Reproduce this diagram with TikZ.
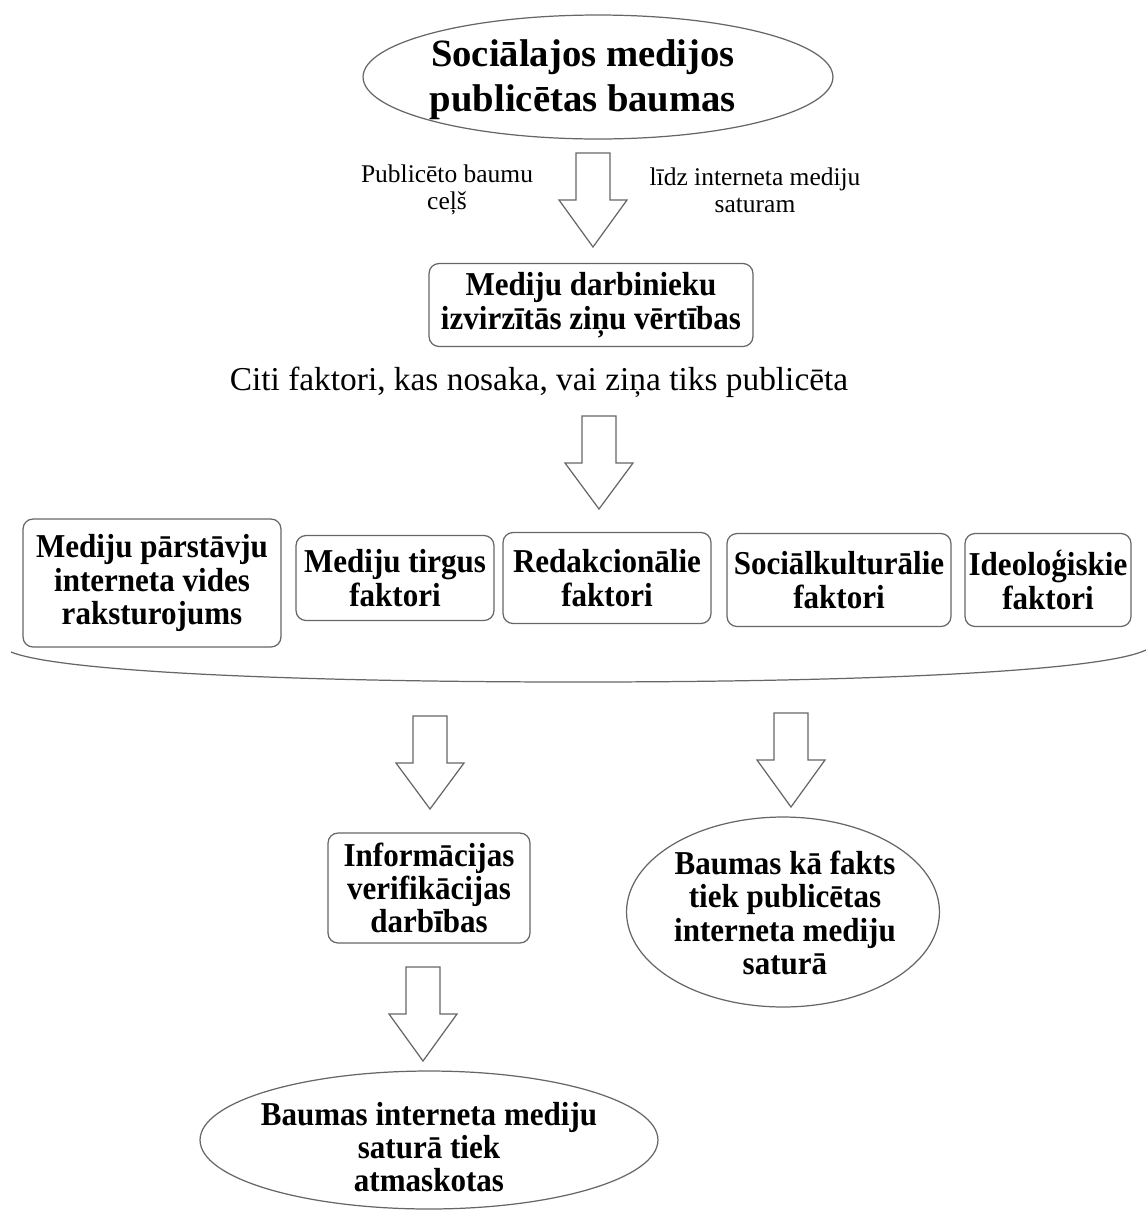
\documentclass[tikz,border=0pt]{standalone}
\usepackage{fontspec}
\setmainfont{Liberation Serif}
\newfontfamily\narrowserif{Liberation Serif}[FakeStretch=0.93]
\usetikzlibrary{shapes.geometric}

\newcommand{\blockdown}[4]{%
  \draw[blockarrow] ({#1-17},#2) -- ({#1+17},#2) -- ({#1+17},#3) -- ({#1+34},#3)
    -- (#1,#4) -- ({#1-34},#3) -- ({#1-17},#3) -- cycle;}

\begin{document}
\begin{tikzpicture}[x=0.02cm, y=-0.02cm,
        every node/.style={align=center, inner sep=0pt},
        boldtext/.style={font=\narrowserif\bfseries\fontsize{19}{19}\selectfont},
        factor/.style={boldtext, draw=black!60, line width=0.7pt, rounded corners=0.2cm},
        ovalline/.style={draw=black!60, line width=0.7pt},
        blockarrow/.style={draw=black!60, line width=0.7pt, fill=white, line join=miter},
        note/.style={font=\fontsize{14.5}{15.5}\selectfont}]
    \useasboundingbox (0,0) rectangle (1146,1211);

    % top
    \node[font=\bfseries\fontsize{22}{25.5}\selectfont] (social) at (583,80) {Sociālajos medijos\\publicētas baumas};
    \draw[ovalline] (598,77) ellipse [x radius=4.7cm, y radius=1.24cm];
    \node[note] (pathL) at (447,190) {Publicēto baumu\\ceļš};
    \node[note] (pathR) at (755,190) {līdz interneta mediju\\saturam};
    \blockdown{593}{153}{200}{247}

    \node[factor, minimum width=6.48cm, minimum height=1.66cm] (values) at (591,305)
        {Mediju darbinieku\\izvirzītās ziņu vērtības};
    \node[font=\fontsize{19}{20}\selectfont] (other) at (539,382)
        {Citi faktori, kas nosaka, vai ziņa tiks publicēta};
    \blockdown{599}{416}{463}{509}

    % factors
    \node[factor, minimum width=5.16cm, minimum height=2.56cm] (f1) at (152,583)
        {Mediju pārstāvju\\interneta vides\\raksturojums};
    \node[factor, minimum width=3.96cm, minimum height=1.7cm] (f2) at (395,578)
        {Mediju tirgus\\faktori};
    \node[factor, minimum width=4.16cm, minimum height=1.82cm] (f3) at (607,578)
        {Redakcionālie\\faktori};
    \node[factor, minimum width=4.48cm, minimum height=1.86cm] (f4) at (839,580)
        {Sociālkulturālie\\faktori};
    \node[factor, minimum width=3.32cm, minimum height=1.86cm] (f5) at (1048,580)
        {Ideoloģiskie\\faktori};
    \coordinate (braceL) at (11,652);
    \coordinate (braceM) at (578,682);
    \coordinate (braceR) at (1146,650);
    \draw[ovalline] (braceL) .. controls (60,672) and (300,682) .. (braceM)
        .. controls (856,682) and (1100,672) .. (braceR);

    \blockdown{430}{716}{763}{809}
    \blockdown{791}{713}{760}{807}

    % outcomes
    \node[factor, minimum width=4.04cm, minimum height=2.2cm] (verify) at (429,888)
        {Informācijas\\verifikācijas\\darbības};
    \node[boldtext] (fact) at (785,913)
        {Baumas kā fakts\\tiek publicētas\\interneta mediju\\saturā};
    \draw[ovalline] (783,912) ellipse [x radius=3.13cm, y radius=1.9cm];
    \blockdown{423}{967}{1014}{1061}
    \node[boldtext] (debunk) at (429,1147)
        {Baumas interneta mediju\\saturā tiek\\atmaskotas};
    \draw[ovalline] (429,1140) ellipse [x radius=4.58cm, y radius=1.38cm];
\end{tikzpicture}
\end{document}
